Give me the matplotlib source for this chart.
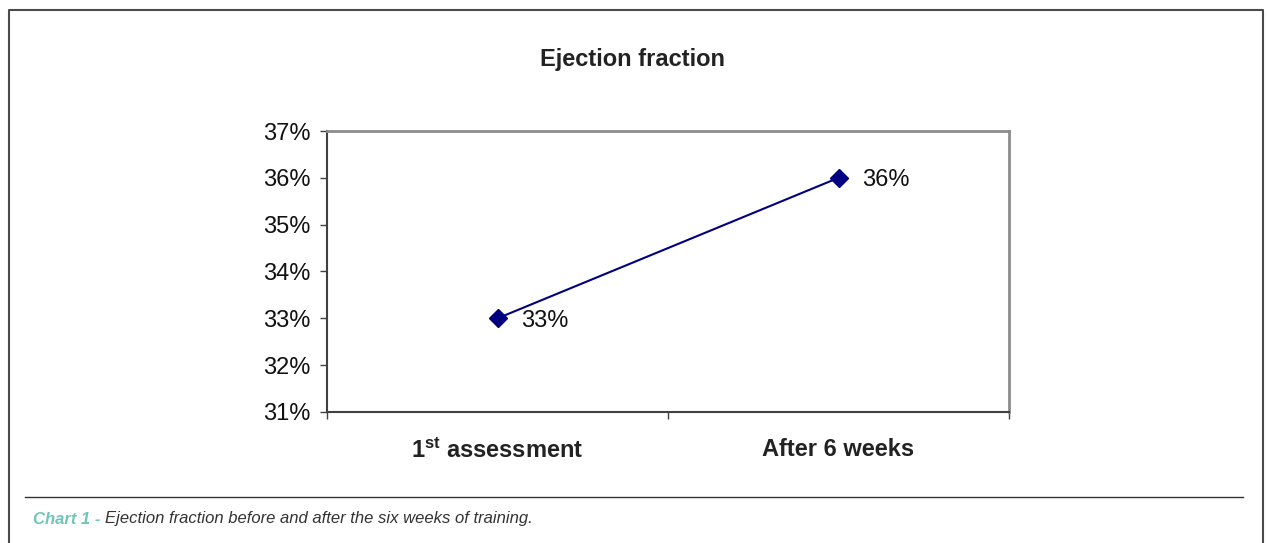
import matplotlib.pyplot as plt
from matplotlib.lines import Line2D
from matplotlib.ticker import PercentFormatter

# data
categories = [r'$\mathbf{1^{st}}$ assessment', 'After 6 weeks']
ejection = [0.33, 0.36]
y_ticks = [0.31, 0.32, 0.33, 0.34, 0.35, 0.36, 0.37]

plt.rcParams['font.family'] = ['Liberation Sans', 'DejaVu Sans']
plt.rcParams['mathtext.fontset'] = 'custom'
plt.rcParams['mathtext.rm'] = 'Liberation Sans'
plt.rcParams['mathtext.bf'] = 'Liberation Sans:bold'

fig = plt.figure(figsize=(12.67, 5.43), dpi=100)
ax = fig.add_axes([327 / 1267, 1 - 412 / 543, 682 / 1267, 281 / 543])

# points sit in the middle of each category slot
xpos = [i + 0.5 for i in range(len(categories))]
ax.plot(xpos, ejection, color='#000080', lw=1.5, marker='D', markersize=9.5,
        markerfacecolor='#000080', markeredgecolor='#000080')
for x, v in zip(xpos, ejection):
    ax.annotate(f'{v * 100:.0f}%', (x, v), xytext=(17, 0), textcoords='offset points',
                ha='left', va='center_baseline', fontsize=17, color='#111111')

ax.set_xlim(0, len(categories))
ax.set_ylim(y_ticks[0], y_ticks[-1])
ax.set_yticks(y_ticks)
ax.yaxis.set_major_formatter(PercentFormatter(xmax=1, decimals=0))
ax.tick_params(axis='y', direction='out', length=5, width=1, color='#404040',
               labelsize=17, labelcolor='#111111', pad=7)

ax.set_xticks(range(len(categories) + 1))
ax.set_xticklabels([])
ax.set_xticks(xpos, minor=True)
ax.set_xticklabels(categories, minor=True, fontsize=17, fontweight='bold', color='#222222')
ax.tick_params(axis='x', which='major', direction='out', length=5, width=1, color='#404040')
ax.tick_params(axis='x', which='minor', length=0, pad=19)

for side in ['left', 'bottom']:
    ax.spines[side].set_color('#404040')
    ax.spines[side].set_linewidth(1.5)
for side in ['top', 'right']:
    ax.spines[side].set_color('#8c8c8c')
    ax.spines[side].set_linewidth(2)

fig.text(632 / 1267, 1 - 60 / 543, 'Ejection fraction', ha='center', va='center',
         fontsize=17, fontweight='bold', color='#222222')

# outer frame (open at the bottom) and caption rule
frame_x = [9 / 1267, 9 / 1267, 1263 / 1267, 1263 / 1267]
frame_y = [0, 1 - 10 / 543, 1 - 10 / 543, 0]
fig.add_artist(Line2D(frame_x, frame_y, color='#4a4a4a', lw=1.5))
fig.add_artist(Line2D([25 / 1267, 1243 / 1267], [1 - 497 / 543] * 2, color='#333333', lw=1))

cap_font = ['Liberation Sans Narrow', 'Liberation Sans', 'DejaVu Sans']
t = fig.text(33 / 1267, 1 - 519 / 543, 'Chart 1 - ', ha='left', va='center', fontsize=12,
             fontstyle='italic', fontweight='bold', color='#6fc6b8', family=cap_font)
fig.canvas.draw()
bb = t.get_window_extent()
fig.text(bb.x1 / 1267, 1 - 519 / 543, 'Ejection fraction before and after the six weeks of training.',
         ha='left', va='center', fontsize=12, fontstyle='italic', color='#333333', family=cap_font)

fig.savefig('out.png', dpi=100)
